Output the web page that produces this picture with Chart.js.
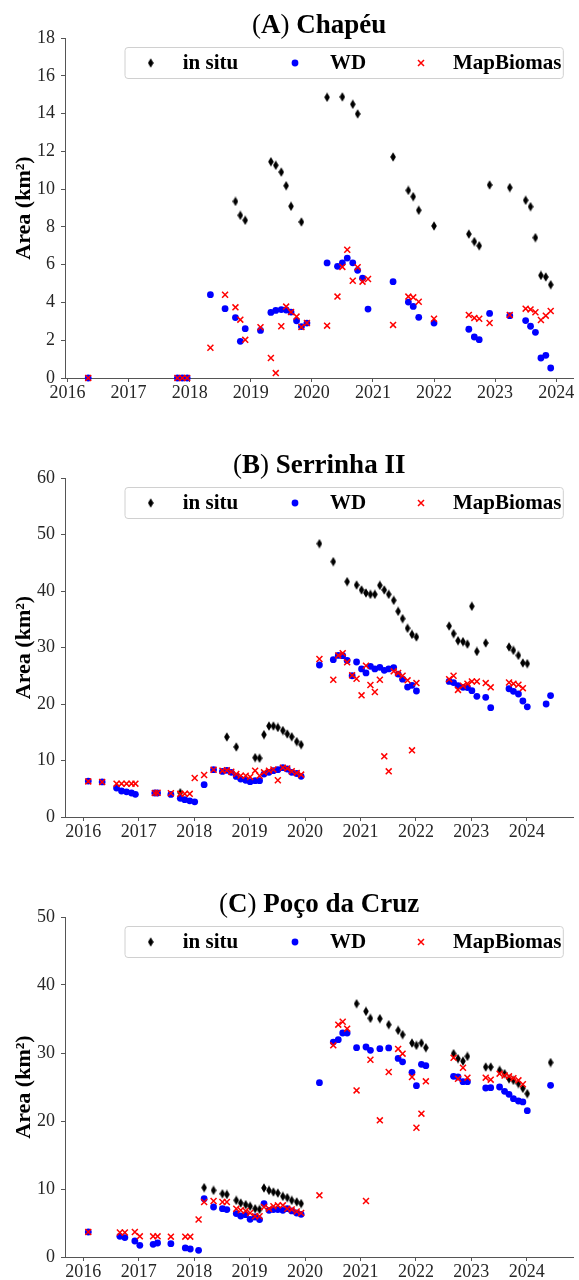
<!DOCTYPE html>
<html><head><meta charset="utf-8">
<script src="https://cdn.jsdelivr.net/npm/chart.js@4.4.1/dist/chart.umd.min.js"></script>
<style>
html,body{margin:0;padding:0;background:#fff;}
#wrap{position:relative;width:579px;height:1280px;overflow:hidden;}
canvas{position:absolute;left:0;}
</style></head><body>
<div id="wrap">
<canvas id="cA" width="579" height="420" style="top:0px"></canvas>
<canvas id="cB" width="579" height="440" style="top:420px"></canvas>
<canvas id="cC" width="579" height="420" style="top:860px"></canvas>
</div>
<script>
// ---------- tick labels ----------
const yearTicks = [2016,2017,2018,2019,2020,2021,2022,2023,2024];
const yTicksA = [0,2,4,6,8,10,12,14,16,18];
const yTicksB = [0,10,20,30,40,50,60];
const yTicksC = [0,10,20,30,40,50];
const seriesNames = ['in situ','WD','MapBiomas'];

// ---------- (A) Chapéu ----------
const chapeuInSituT = [2018.75,2018.83,2018.91,2019.33,2019.41,2019.50,2019.58,2019.66,2019.83,2020.25,2020.50,2020.67,2020.75,2021.33,2021.58,2021.66,2021.75,2022.00,2022.57,2022.66,2022.74,2022.91,2023.24,2023.50,2023.58,2023.66,2023.75,2023.83,2023.91];
const chapeuInSitu  = [9.35,8.61,8.35,11.45,11.26,10.9,10.18,9.09,8.26,14.86,14.88,14.49,13.98,11.7,9.93,9.6,8.88,8.05,7.62,7.22,7.0,10.22,10.08,9.41,9.07,7.43,5.43,5.35,4.94];
const chapeuSatT = [2016.34,2017.80,2017.88,2017.96,2018.34,2018.58,2018.75,2018.83,2018.91,2019.16,2019.33,2019.41,2019.50,2019.58,2019.66,2019.75,2019.83,2019.92,2020.25,2020.42,2020.50,2020.58,2020.67,2020.75,2020.83,2020.92,2021.33,2021.58,2021.66,2021.75,2022.00,2022.57,2022.66,2022.74,2022.91,2023.24,2023.50,2023.58,2023.66,2023.75,2023.83,2023.91];
const chapeuWD = [0,0,0,0, 4.41,3.67,3.2,1.94,2.61, 2.52,3.47,3.58,3.62,3.6,3.49,3.03,2.72,2.91, 6.09,5.91,6.09,6.35,6.1,5.7,5.28,3.65, 5.10,4.02,3.79,3.21, 2.91,2.58,2.17,2.03,3.42, 3.30,3.04,2.74,2.42,1.06,1.20,0.53];
const chapeuMB = [0,0,0,0, 1.6,4.41,3.74,3.09,2.02, 2.69,1.06,0.26,2.74,3.78,3.49,3.25,2.7,2.91, 2.77,4.31,5.88,6.79,5.15,5.86,5.10,5.24, 2.81,4.31,4.27,4.04, 3.14,3.34,3.18,3.14,2.91, 3.34,3.67,3.63,3.48,3.07,3.30,3.55];

// ---------- (B) Serrinha II ----------
const serrinhaInSituT = [2017.75, 2018.59,2018.76,2019.10,2019.18,2019.26,2019.35,2019.43,2019.51,2019.60,2019.68,2019.76,2019.85,2019.93, 2020.26,2020.51,2020.76,2020.93, 2021.02,2021.10,2021.18,2021.26,2021.35,2021.43,2021.51,2021.60,2021.68,2021.76,2021.85,2021.93, 2022.01,2022.60,2022.68,2022.76,2022.85,2022.93, 2023.01,2023.10,2023.26,2023.68,2023.76,2023.85,2023.93, 2024.01];
const serrinhaInSitu  = [4.3, 14.16,12.39,10.5,10.4,14.57,16.1,16.1,15.85,15.3,14.7,14.2,13.35,12.8, 48.38,45.19,41.65,41.06, 40.18,39.65,39.41,39.41,41.0,40.18,39.41,38.35,36.4,35.1,33.4,32.33, 31.86,33.8,32.45,31.2,31.03,30.6, 37.3,29.3,30.8,30.09,29.5,28.6,27.26, 27.14];
const serrinhaWDT = [2016.09,2016.34,2016.60,2016.69,2016.78,2016.87,2016.94, 2017.29,2017.34,2017.58,2017.75,2017.83,2017.92, 2018.01,2018.18,2018.35,2018.51,2018.59,2018.67,2018.76,2018.84,2018.93, 2019.01,2019.10,2019.18,2019.26,2019.35,2019.43,2019.51,2019.60,2019.68,2019.76,2019.85,2019.93, 2020.26,2020.51,2020.60,2020.68,2020.76,2020.85,2020.93, 2021.02,2021.10,2021.18,2021.26,2021.35,2021.43,2021.51,2021.60,2021.68,2021.76,2021.85,2021.93, 2022.01,2022.60,2022.68,2022.76,2022.85,2022.93, 2023.01,2023.10,2023.26,2023.35,2023.68,2023.76,2023.85,2023.93, 2024.01,2024.35,2024.43];
const serrinhaWD = [6.35,6.2,5.13,4.6,4.45,4.25,4.02, 4.25,4.25,4.0,3.3,3.06,2.86, 2.68,5.72,8.37,8.07,8.26,7.9,7.19,6.72,6.49, 6.25,6.43,6.43,7.6,7.9,8.2,8.37,8.73,8.5,7.9,7.7,7.2, 26.9,27.85,28.6,28.55,27.7,25.0,27.43, 26.2,25.5,26.67,26.2,26.5,25.96,26.2,26.43,25.3,24.4,23.0,23.3, 22.3,24.0,23.8,23.24,22.95,22.9, 22.36,21.36,21.18,19.35,22.7,22.24,21.77,20.53, 19.5,20.0,21.5];
const serrinhaMBT = [2016.09,2016.34,2016.60,2016.69,2016.78,2016.87,2016.94, 2017.29,2017.34,2017.58,2017.75,2017.83,2017.92, 2018.01,2018.18,2018.35,2018.51,2018.59,2018.67,2018.76,2018.84,2018.93, 2019.01,2019.10,2019.18,2019.26,2019.35,2019.43,2019.51,2019.60,2019.68,2019.76,2019.85,2019.93, 2020.26,2020.51,2020.60,2020.68,2020.76,2020.85,2020.93, 2021.02,2021.10,2021.18,2021.26,2021.35,2021.43,2021.51,2021.60,2021.68,2021.76,2021.85,2021.93, 2022.01,2022.60,2022.68,2022.76,2022.85,2022.93, 2023.01,2023.10,2023.26,2023.35,2023.68,2023.76,2023.85,2023.93];
const serrinhaMB = [6.3,6.2,5.9,5.9,5.9,5.9,5.9, 4.25,4.3,4.2,4.1,4.1,4.1, 6.9,7.43,8.37,8.2,8.26,8.0,7.6,7.3,7.3, 7.1,8.2,7.3,7.9,8.2,8.4,6.5,8.73,8.6,8.1,7.8,7.5, 27.96,24.3,28.6,29.0,27.37,25.07,24.48, 21.53,26.78,23.36,22.12,24.3,10.74,8.08,25.78,25.5,25.0,24.19,11.8, 23.7,24.4,25.0,22.5,23.24,23.6, 24.0,24.0,23.7,22.95,23.8,23.6,23.4,22.8];

// ---------- (C) Poço da Cruz ----------
const pocoInSituT = [2018.18,2018.35,2018.51,2018.59,2018.76,2018.84,2018.93, 2019.01,2019.10,2019.18,2019.26,2019.35,2019.43,2019.51,2019.60,2019.68,2019.76,2019.85,2019.93, 2020.93, 2021.10,2021.18,2021.35,2021.51,2021.68,2021.76,2021.93, 2022.01,2022.10,2022.18,2022.68,2022.76,2022.85,2022.93, 2023.26,2023.35,2023.51,2023.60,2023.68,2023.76,2023.85,2023.93, 2024.01,2024.43];
const pocoInSitu  = [10.2,9.8,9.3,9.2,8.33,7.94,7.7, 7.46,7.1,7.0,10.15,9.8,9.56,9.4,8.92,8.73,8.33,8.1,7.85, 37.25, 36.13,35.1,35.05,34.17,33.33,32.7,31.47, 31.13,31.47,30.78,29.9,29.17,28.8,29.5, 27.94,27.94,27.45,26.96,26.2,25.98,25.5,24.8, 24.02,28.6];
const pocoWDT = [2016.09,2016.66,2016.75,2016.93, 2017.02,2017.26,2017.34,2017.58,2017.84,2017.93, 2018.08,2018.18,2018.35,2018.51,2018.59,2018.76,2018.84,2018.93, 2019.01,2019.10,2019.18,2019.26,2019.35,2019.43,2019.51,2019.60,2019.68,2019.76,2019.85,2019.93, 2020.26,2020.51,2020.60,2020.68,2020.76,2020.93, 2021.10,2021.18,2021.35,2021.51,2021.68,2021.76,2021.93, 2022.01,2022.10,2022.18,2022.68,2022.76,2022.85,2022.93, 2023.26,2023.35,2023.51,2023.60,2023.68,2023.76,2023.85,2023.93, 2024.01,2024.43];
const pocoWD = [3.68,3.04,2.85,2.35, 1.72,1.87,2.06,1.96,1.33,1.18, 0.98,8.58,7.35,7.1,6.97,6.38,6.03,6.23, 5.54,5.88,5.5,7.85,6.87,6.97,6.97,6.87,7.1,6.77,6.47,6.28, 25.64,31.6,31.96,32.94,32.94,30.78, 30.88,30.4,30.64,30.74,29.2,28.7,27.16, 25.2,28.33,28.14,26.57,26.47,25.78,25.78, 24.85,24.9,25.0,24.36,23.92,23.28,22.94,22.8, 21.52,25.25];
const pocoMBT = [2016.09,2016.66,2016.75,2016.93, 2017.02,2017.26,2017.34,2017.58,2017.84,2017.93, 2018.08,2018.18,2018.35,2018.51,2018.59,2018.76,2018.84,2018.93, 2019.01,2019.10,2019.18,2019.26,2019.35,2019.43,2019.51,2019.60,2019.68,2019.76,2019.85,2019.93, 2020.26,2020.51,2020.60,2020.68,2020.76,2020.93, 2021.10,2021.18,2021.35,2021.51,2021.68,2021.76,2021.93, 2022.01,2022.10,2022.18,2022.68,2022.76,2022.85,2022.93, 2023.26,2023.35,2023.51,2023.60,2023.68,2023.76,2023.85,2023.93];
const pocoMB = [3.68,3.6,3.6,3.68, 3.04,3.04,3.04,2.99,2.99,2.99, 5.52,8.09,8.24,8.09,8.09,7.1,6.87,6.77, 6.47,6.0,6.0,7.35,7.1,7.46,7.6,7.6,7.1,7.0,6.7,6.47, 9.07,31.13,34.17,34.6,33.58,24.5, 8.24,29.0,20.1,27.2,30.6,29.9,26.47, 19.0,21.08,25.83,29.3,26.2,27.84,26.37, 26.37,26.08,26.96,26.7,26.57,26.3,25.98,25.4];

// ---------- helpers ----------
const FONT = '"Liberation Serif", "Times New Roman", serif';
Chart.defaults.font.family = FONT;

function makeDiamond(){
  const c = document.createElement('canvas');
  c.width = 6; c.height = 10;
  const g = c.getContext('2d');
  g.fillStyle = '#000';
  g.beginPath();
  g.moveTo(3,0.3); g.lineTo(5.8,5); g.lineTo(3,9.7); g.lineTo(0.2,5);
  g.closePath(); g.fill();
  return c;
}
const diamond = makeDiamond();

function pts(t, v){ return t.map((x,i)=>({x:x, y:v[i]})); }

const overlay = {
  id: 'overlay',
  afterDraw(chart, args, opts){
    const ctx = chart.ctx, ca = chart.chartArea;
    ctx.save();
    const parts = opts.title;
    let total = 0;
    parts.forEach(p=>{ ctx.font = (p.b?'bold ':'') + '27px ' + FONT; p.w = ctx.measureText(p.t).width; total += p.w; });
    let x = (ca.left + ca.right)/2 - total/2;
    const by = ca.top - 5.5;
    ctx.fillStyle = '#000'; ctx.textBaseline = 'alphabetic'; ctx.textAlign = 'left';
    parts.forEach(p=>{ ctx.font = (p.b?'bold ':'') + '27px ' + FONT; ctx.fillText(p.t, x, by); x += p.w; });

    const L = 125, R = ca.right - 10, T = ca.top + 9.5, H = 31, r = 3;
    ctx.beginPath();
    ctx.moveTo(L+r, T); ctx.lineTo(R-r, T); ctx.arcTo(R, T, R, T+r, r);
    ctx.lineTo(R, T+H-r); ctx.arcTo(R, T+H, R-r, T+H, r);
    ctx.lineTo(L+r, T+H); ctx.arcTo(L, T+H, L, T+H-r, r);
    ctx.lineTo(L, T+r); ctx.arcTo(L, T, L+r, T, r);
    ctx.closePath();
    ctx.fillStyle = 'rgba(255,255,255,0.8)'; ctx.fill();
    ctx.strokeStyle = '#d0d0d0'; ctx.lineWidth = 1; ctx.stroke();
    const cy = T + H/2;
    ctx.drawImage(diamond, 150.7 - 3, cy - 5);
    ctx.beginPath(); ctx.arc(295, cy, 3.4, 0, Math.PI*2); ctx.fillStyle = '#0000ff'; ctx.fill();
    ctx.beginPath(); ctx.moveTo(418, cy-3); ctx.lineTo(424, cy+3); ctx.moveTo(418, cy+3); ctx.lineTo(424, cy-3);
    ctx.strokeStyle = '#ff0000'; ctx.lineWidth = 1.5; ctx.stroke();
    ctx.fillStyle = '#000'; ctx.font = 'bold 21px ' + FONT;
    const ty = T + 21.3;
    ctx.fillText(seriesNames[0], 182.7, ty);
    ctx.fillText(seriesNames[1], 330, ty);
    ctx.fillText(seriesNames[2], 453, ty);
    ctx.restore();
  }
};

function makeChart(id, cfg){
  return new Chart(document.getElementById(id), {
    type: 'scatter',
    data: { datasets: [
      { label: seriesNames[0], data: pts(cfg.insT, cfg.ins), pointStyle: diamond, pointRadius: 4, backgroundColor:'#000', borderColor:'#000', order: 3, clip: false },
      { label: seriesNames[1], data: pts(cfg.wdT, cfg.wd), pointStyle: 'circle', pointRadius: 3.4, backgroundColor:'#0000ff', borderColor:'#0000ff', borderWidth: 0, order: 2, clip: false },
      { label: seriesNames[2], data: pts(cfg.mbT, cfg.mb), pointStyle: 'crossRot', pointRadius: 4.2, backgroundColor:'#ff0000', borderColor:'#ff0000', borderWidth: 1.5, order: 1, clip: false }
    ]},
    options: {
      responsive: false, animation: false, devicePixelRatio: 1, events: [],
      layout: { padding: { top: cfg.top, right: 2, left: 0, bottom: 0 } },
      plugins: { legend: { display: false }, tooltip: { enabled: false }, overlay: { title: cfg.title } },
      scales: {
        x: {
          type: 'linear', min: cfg.xmin, max: cfg.xmax,
          afterBuildTicks: s => { s.ticks = yearTicks.map(v=>({value:v})); },
          afterFit: s => { s.height = cfg.xh; },
          grid: { display: true, drawOnChartArea: false, drawTicks: true, tickLength: 4, color: '#555', lineWidth: 1 },
          border: { display: true, color: '#555', width: 1 },
          ticks: { font: { family: FONT, size: 18 }, color: '#262626', padding: 0, maxRotation: 0, autoSkip: false, callback: v => String(v) }
        },
        y: {
          type: 'linear', min: 0, max: cfg.yTicks[cfg.yTicks.length-1],
          afterBuildTicks: s => { s.ticks = cfg.yTicks.map(v=>({value:v})); },
          afterFit: s => { s.width = 65; },
          grid: { display: true, drawOnChartArea: false, drawTicks: true, tickLength: 4, color: '#555', lineWidth: 1 },
          border: { display: true, color: '#555', width: 1 },
          ticks: { font: { family: FONT, size: 18 }, color: '#262626', padding: 6, autoSkip: false, callback: v => String(v) },
          title: { display: true, text: 'Area (km²)', color: '#000', font: { family: FONT, size: 22, weight: 'bold' }, padding: { top: 11, bottom: 0 } }
        }
      }
    },
    plugins: [overlay]
  });
}

makeChart('cA', { insT: chapeuInSituT, ins: chapeuInSitu, wdT: chapeuSatT, wd: chapeuWD, mbT: chapeuSatT, mb: chapeuMB,
  xmin: 2015.96, xmax: 2024.28, yTicks: yTicksA, top: 38, xh: 42,
  title: [{t:'(',b:false},{t:'A',b:true},{t:')',b:false},{t:' Chapéu',b:true}] });
makeChart('cB', { insT: serrinhaInSituT, ins: serrinhaInSitu, wdT: serrinhaWDT, wd: serrinhaWD, mbT: serrinhaMBT, mb: serrinhaMB,
  xmin: 2015.67, xmax: 2024.84, yTicks: yTicksB, top: 58, xh: 43,
  title: [{t:'(',b:false},{t:'B',b:true},{t:')',b:false},{t:' Serrinha II',b:true}] });
makeChart('cC', { insT: pocoInSituT, ins: pocoInSitu, wdT: pocoWDT, wd: pocoWD, mbT: pocoMBT, mb: pocoMB,
  xmin: 2015.67, xmax: 2024.84, yTicks: yTicksC, top: 57, xh: 23,
  title: [{t:'(',b:false},{t:'C',b:true},{t:')',b:false},{t:' Poço da Cruz',b:true}] });
</script>
</body></html>
